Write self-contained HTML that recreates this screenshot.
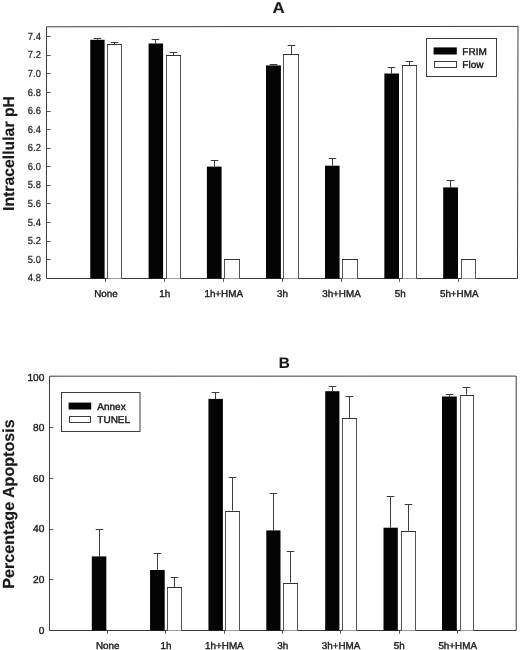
<!DOCTYPE html>
<html><head><meta charset="utf-8"><title>Figure</title>
<style>
html,body{margin:0;padding:0;background:#fff;}
body{width:520px;height:650px;overflow:hidden;font-family:"Liberation Sans",sans-serif;}
svg{display:block;filter:grayscale(1);}
text{font-family:"Liberation Sans",sans-serif;fill:#1a1a1a;stroke:#1a1a1a;stroke-width:0.3px;text-rendering:geometricPrecision;}
.tk{font-size:10.2px;stroke-width:0.22px;}
.tk2{font-size:10.2px;stroke-width:0.38px;}
.xl{font-size:9.85px;stroke-width:0.38px;}
.lg{font-size:10px;stroke-width:0.42px;}
.pt{font-size:15px;font-weight:bold;stroke-width:0.15px;}
.yt{font-size:15.8px;font-weight:bold;stroke-width:0.15px;}
.yt2{font-size:16.1px;font-weight:bold;stroke-width:0.15px;}
</style></head>
<body>
<svg width="520" height="650" viewBox="0 0 520 650">
<rect width="520" height="650" fill="#fff"/>
<g id="chartA">
<path d="M46.5 26.8 L280 26.6 L518.0 26.4 L517.5 278.5 L46.5 278.5 Z" fill="none" stroke="#3c3c3c" stroke-width="1"/>
<line x1="46.5" y1="36.5" x2="50.7" y2="36.5" stroke="#555" stroke-width="1"/>
<text transform="translate(40.9,39.85) scale(0.92,1)" text-anchor="end" class="tk">7.4</text>
<line x1="46.5" y1="55.5" x2="50.7" y2="55.5" stroke="#555" stroke-width="1"/>
<text transform="translate(40.9,58.43) scale(0.92,1)" text-anchor="end" class="tk">7.2</text>
<line x1="46.5" y1="73.5" x2="50.7" y2="73.5" stroke="#555" stroke-width="1"/>
<text transform="translate(40.9,77.00) scale(0.92,1)" text-anchor="end" class="tk">7.0</text>
<line x1="46.5" y1="92.5" x2="50.7" y2="92.5" stroke="#555" stroke-width="1"/>
<text transform="translate(40.9,95.58) scale(0.92,1)" text-anchor="end" class="tk">6.8</text>
<line x1="46.5" y1="111.5" x2="50.7" y2="111.5" stroke="#555" stroke-width="1"/>
<text transform="translate(40.9,114.16) scale(0.92,1)" text-anchor="end" class="tk">6.6</text>
<line x1="46.5" y1="129.5" x2="50.7" y2="129.5" stroke="#555" stroke-width="1"/>
<text transform="translate(40.9,132.73) scale(0.92,1)" text-anchor="end" class="tk">6.4</text>
<line x1="46.5" y1="148.5" x2="50.7" y2="148.5" stroke="#555" stroke-width="1"/>
<text transform="translate(40.9,151.31) scale(0.92,1)" text-anchor="end" class="tk">6.2</text>
<line x1="46.5" y1="166.5" x2="50.7" y2="166.5" stroke="#555" stroke-width="1"/>
<text transform="translate(40.9,169.89) scale(0.92,1)" text-anchor="end" class="tk">6.0</text>
<line x1="46.5" y1="185.5" x2="50.7" y2="185.5" stroke="#555" stroke-width="1"/>
<text transform="translate(40.9,188.47) scale(0.92,1)" text-anchor="end" class="tk">5.8</text>
<line x1="46.5" y1="203.5" x2="50.7" y2="203.5" stroke="#555" stroke-width="1"/>
<text transform="translate(40.9,207.04) scale(0.92,1)" text-anchor="end" class="tk">5.6</text>
<line x1="46.5" y1="222.5" x2="50.7" y2="222.5" stroke="#555" stroke-width="1"/>
<text transform="translate(40.9,225.62) scale(0.92,1)" text-anchor="end" class="tk">5.4</text>
<line x1="46.5" y1="241.5" x2="50.7" y2="241.5" stroke="#555" stroke-width="1"/>
<text transform="translate(40.9,244.20) scale(0.92,1)" text-anchor="end" class="tk">5.2</text>
<line x1="46.5" y1="259.5" x2="50.7" y2="259.5" stroke="#555" stroke-width="1"/>
<text transform="translate(40.9,262.77) scale(0.92,1)" text-anchor="end" class="tk">5.0</text>
<text transform="translate(40.9,281.35) scale(0.92,1)" text-anchor="end" class="tk">4.8</text>
<path d="M97.5 39.80V38.5M93.70 38.5H101.30" stroke="#3c3c3c" stroke-width="1" fill="none"/>
<path d="M114.5 44.00V42.5M110.70 42.5H118.30" stroke="#3c3c3c" stroke-width="1" fill="none"/>
<rect x="90.25" y="39.80" width="14.35" height="238.70" fill="#040404"/>
<rect x="107.5" y="44.5" width="14.0" height="234.00" fill="#fff"/>
<path d="M107.5 278.5V44.0M121.5 278.5V44.0" stroke="#555" stroke-width="1" fill="none"/>
<path d="M107.0 44.5H122.0" stroke="#333" stroke-width="1" fill="none"/>
<path d="M155.5 43.50V39.5M151.70 39.5H159.30" stroke="#3c3c3c" stroke-width="1" fill="none"/>
<path d="M173.5 55.10V52.5M169.70 52.5H177.30" stroke="#3c3c3c" stroke-width="1" fill="none"/>
<rect x="148.60" y="43.50" width="14.50" height="235.00" fill="#040404"/>
<rect x="166.5" y="55.5" width="14.0" height="223.00" fill="#fff"/>
<path d="M166.5 278.5V55.0M180.5 278.5V55.0" stroke="#555" stroke-width="1" fill="none"/>
<path d="M166.0 55.5H181.0" stroke="#333" stroke-width="1" fill="none"/>
<path d="M214.5 166.60V160.5M210.70 160.5H218.30" stroke="#3c3c3c" stroke-width="1" fill="none"/>
<rect x="206.90" y="166.60" width="14.70" height="111.90" fill="#040404"/>
<rect x="224.5" y="259.5" width="15.0" height="19.00" fill="#fff"/>
<path d="M224.5 278.5V259.0M239.5 278.5V259.0" stroke="#555" stroke-width="1" fill="none"/>
<path d="M224.0 259.5H240.0" stroke="#333" stroke-width="1" fill="none"/>
<path d="M273.5 65.40V64.5M269.70 64.5H277.30" stroke="#3c3c3c" stroke-width="1" fill="none"/>
<path d="M291.5 54.25V45.5M287.70 45.5H295.30" stroke="#3c3c3c" stroke-width="1" fill="none"/>
<rect x="266.00" y="65.40" width="14.90" height="213.10" fill="#040404"/>
<rect x="283.5" y="54.5" width="15.0" height="224.00" fill="#fff"/>
<path d="M283.5 278.5V54.0M298.5 278.5V54.0" stroke="#555" stroke-width="1" fill="none"/>
<path d="M283.0 54.5H299.0" stroke="#333" stroke-width="1" fill="none"/>
<path d="M332.5 165.70V158.5M328.70 158.5H336.30" stroke="#3c3c3c" stroke-width="1" fill="none"/>
<rect x="325.00" y="165.70" width="14.60" height="112.80" fill="#040404"/>
<rect x="342.5" y="259.5" width="15.0" height="19.00" fill="#fff"/>
<path d="M342.5 278.5V259.0M357.5 278.5V259.0" stroke="#555" stroke-width="1" fill="none"/>
<path d="M342.0 259.5H358.0" stroke="#333" stroke-width="1" fill="none"/>
<path d="M391.5 73.50V67.5M387.70 67.5H395.30" stroke="#3c3c3c" stroke-width="1" fill="none"/>
<path d="M409.5 65.30V61.5M405.70 61.5H413.30" stroke="#3c3c3c" stroke-width="1" fill="none"/>
<rect x="384.35" y="73.50" width="14.65" height="205.00" fill="#040404"/>
<rect x="402.5" y="65.5" width="14.0" height="213.00" fill="#fff"/>
<path d="M402.5 278.5V65.0M416.5 278.5V65.0" stroke="#555" stroke-width="1" fill="none"/>
<path d="M402.0 65.5H417.0" stroke="#333" stroke-width="1" fill="none"/>
<path d="M450.5 187.40V180.5M446.70 180.5H454.30" stroke="#3c3c3c" stroke-width="1" fill="none"/>
<rect x="443.20" y="187.40" width="14.80" height="91.10" fill="#040404"/>
<rect x="461.5" y="259.5" width="14.0" height="19.00" fill="#fff"/>
<path d="M461.5 278.5V259.0M475.5 278.5V259.0" stroke="#555" stroke-width="1" fill="none"/>
<path d="M461.0 259.5H476.0" stroke="#333" stroke-width="1" fill="none"/>
<line x1="105.5" y1="278.5" x2="105.5" y2="281.9" stroke="#555" stroke-width="1"/>
<text x="105.98" y="296.7" text-anchor="middle" class="xl">None</text>
<line x1="164.5" y1="278.5" x2="164.5" y2="281.9" stroke="#555" stroke-width="1"/>
<text x="164.85" y="296.7" text-anchor="middle" class="xl">1h</text>
<line x1="223.5" y1="278.5" x2="223.5" y2="281.9" stroke="#555" stroke-width="1"/>
<text x="223.72" y="296.7" text-anchor="middle" class="xl">1h+HMA</text>
<line x1="282.5" y1="278.5" x2="282.5" y2="281.9" stroke="#555" stroke-width="1"/>
<text x="282.60" y="296.7" text-anchor="middle" class="xl">3h</text>
<line x1="341.5" y1="278.5" x2="341.5" y2="281.9" stroke="#555" stroke-width="1"/>
<text x="341.47" y="296.7" text-anchor="middle" class="xl">3h+HMA</text>
<line x1="399.5" y1="278.5" x2="399.5" y2="281.9" stroke="#555" stroke-width="1"/>
<text x="400.35" y="296.7" text-anchor="middle" class="xl">5h</text>
<line x1="458.5" y1="278.5" x2="458.5" y2="281.9" stroke="#555" stroke-width="1"/>
<text x="459.22" y="296.7" text-anchor="middle" class="xl">5h+HMA</text>
<rect x="426.5" y="38.5" width="70" height="38" fill="#fff" stroke="#3c3c3c" stroke-width="1"/>
<rect x="433.6" y="47.4" width="23.2" height="7.1" fill="#040404"/>
<rect x="434.5" y="61.5" width="22" height="6" fill="#fff" stroke="#3c3c3c" stroke-width="1"/>
<text x="462.3" y="54.6" class="lg">FRIM</text>
<text x="462.3" y="67.6" class="lg">Flow</text>
<text transform="translate(278.5,12.5) scale(1.07,1)" text-anchor="middle" class="pt" style="font-size:15.8px">A</text>
<text transform="translate(14.0,153.5) rotate(-90)" text-anchor="middle" class="yt">Intracellular pH</text>
</g>
<g id="chartB">
<path d="M49.5 376.2 L516.2 376.1 L516.2 630.5 L49.5 630.5 Z" fill="none" stroke="#3c3c3c" stroke-width="1"/>
<text x="44.4" y="380.60" text-anchor="end" class="tk2">100</text>
<line x1="49.5" y1="427.5" x2="53.3" y2="427.5" stroke="#555" stroke-width="1"/>
<text x="44.4" y="431.20" text-anchor="end" class="tk2">80</text>
<line x1="49.5" y1="478.5" x2="53.3" y2="478.5" stroke="#555" stroke-width="1"/>
<text x="44.4" y="481.80" text-anchor="end" class="tk2">60</text>
<line x1="49.5" y1="529.5" x2="53.3" y2="529.5" stroke="#555" stroke-width="1"/>
<text x="44.4" y="532.40" text-anchor="end" class="tk2">40</text>
<line x1="49.5" y1="579.5" x2="53.3" y2="579.5" stroke="#555" stroke-width="1"/>
<text x="44.4" y="583.00" text-anchor="end" class="tk2">20</text>
<text x="44.4" y="633.60" text-anchor="end" class="tk2">0</text>
<path d="M99.5 556.40V529.5M95.70 529.5H103.30" stroke="#3c3c3c" stroke-width="1" fill="none"/>
<rect x="91.80" y="556.40" width="14.50" height="74.10" fill="#040404"/>
<path d="M157.5 570.00V553.5M153.70 553.5H161.30" stroke="#3c3c3c" stroke-width="1" fill="none"/>
<path d="M174.5 587.20V577.5M170.70 577.5H178.30" stroke="#3c3c3c" stroke-width="1" fill="none"/>
<rect x="150.05" y="570.00" width="14.65" height="60.50" fill="#040404"/>
<rect x="167.5" y="587.5" width="14.0" height="43.00" fill="#fff"/>
<path d="M167.5 630.5V587.0M181.5 630.5V587.0" stroke="#555" stroke-width="1" fill="none"/>
<path d="M167.0 587.5H182.0" stroke="#333" stroke-width="1" fill="none"/>
<path d="M215.5 398.90V392.5M211.70 392.5H219.30" stroke="#3c3c3c" stroke-width="1" fill="none"/>
<path d="M232.5 510.60V477.5M228.70 477.5H236.30" stroke="#3c3c3c" stroke-width="1" fill="none"/>
<rect x="208.45" y="398.90" width="14.45" height="231.60" fill="#040404"/>
<rect x="225.5" y="511.5" width="14.0" height="119.00" fill="#fff"/>
<path d="M225.5 630.5V511.0M239.5 630.5V511.0" stroke="#555" stroke-width="1" fill="none"/>
<path d="M225.0 511.5H240.0" stroke="#333" stroke-width="1" fill="none"/>
<path d="M273.5 530.40V493.5M269.70 493.5H277.30" stroke="#3c3c3c" stroke-width="1" fill="none"/>
<path d="M290.5 582.50V551.5M286.70 551.5H294.30" stroke="#3c3c3c" stroke-width="1" fill="none"/>
<rect x="266.30" y="530.40" width="14.20" height="100.10" fill="#040404"/>
<rect x="283.5" y="583.5" width="14.0" height="47.00" fill="#fff"/>
<path d="M283.5 630.5V583.0M297.5 630.5V583.0" stroke="#555" stroke-width="1" fill="none"/>
<path d="M283.0 583.5H298.0" stroke="#333" stroke-width="1" fill="none"/>
<path d="M332.5 391.20V386.5M328.70 386.5H336.30" stroke="#3c3c3c" stroke-width="1" fill="none"/>
<path d="M349.5 418.30V396.5M345.70 396.5H353.30" stroke="#3c3c3c" stroke-width="1" fill="none"/>
<rect x="325.20" y="391.20" width="14.20" height="239.30" fill="#040404"/>
<rect x="342.5" y="418.5" width="14.0" height="212.00" fill="#fff"/>
<path d="M342.5 630.5V418.0M356.5 630.5V418.0" stroke="#555" stroke-width="1" fill="none"/>
<path d="M342.0 418.5H357.0" stroke="#333" stroke-width="1" fill="none"/>
<path d="M390.5 527.70V496.5M386.70 496.5H394.30" stroke="#3c3c3c" stroke-width="1" fill="none"/>
<path d="M408.5 530.90V504.5M404.70 504.5H412.30" stroke="#3c3c3c" stroke-width="1" fill="none"/>
<rect x="383.50" y="527.70" width="14.30" height="102.80" fill="#040404"/>
<rect x="401.5" y="531.5" width="14.0" height="99.00" fill="#fff"/>
<path d="M401.5 630.5V531.0M415.5 630.5V531.0" stroke="#555" stroke-width="1" fill="none"/>
<path d="M401.0 531.5H416.0" stroke="#333" stroke-width="1" fill="none"/>
<path d="M449.5 396.50V394.5M445.70 394.5H453.30" stroke="#3c3c3c" stroke-width="1" fill="none"/>
<path d="M466.5 394.60V387.5M462.70 387.5H470.30" stroke="#3c3c3c" stroke-width="1" fill="none"/>
<rect x="442.00" y="396.50" width="14.80" height="234.00" fill="#040404"/>
<rect x="460.5" y="395.5" width="13.0" height="235.00" fill="#fff"/>
<path d="M460.5 630.5V395.0M473.5 630.5V395.0" stroke="#555" stroke-width="1" fill="none"/>
<path d="M460.0 395.5H474.0" stroke="#333" stroke-width="1" fill="none"/>
<line x1="107.5" y1="630.5" x2="107.5" y2="633.7" stroke="#555" stroke-width="1"/>
<text x="107.73" y="648.8" text-anchor="middle" class="xl">None</text>
<line x1="165.5" y1="630.5" x2="165.5" y2="633.7" stroke="#555" stroke-width="1"/>
<text x="166.05" y="648.8" text-anchor="middle" class="xl">1h</text>
<line x1="224.5" y1="630.5" x2="224.5" y2="633.7" stroke="#555" stroke-width="1"/>
<text x="224.38" y="648.8" text-anchor="middle" class="xl">1h+HMA</text>
<line x1="282.5" y1="630.5" x2="282.5" y2="633.7" stroke="#555" stroke-width="1"/>
<text x="282.70" y="648.8" text-anchor="middle" class="xl">3h</text>
<line x1="340.5" y1="630.5" x2="340.5" y2="633.7" stroke="#555" stroke-width="1"/>
<text x="341.02" y="648.8" text-anchor="middle" class="xl">3h+HMA</text>
<line x1="399.5" y1="630.5" x2="399.5" y2="633.7" stroke="#555" stroke-width="1"/>
<text x="399.35" y="648.8" text-anchor="middle" class="xl">5h</text>
<line x1="457.5" y1="630.5" x2="457.5" y2="633.7" stroke="#555" stroke-width="1"/>
<text x="457.68" y="648.8" text-anchor="middle" class="xl">5h+HMA</text>
<rect x="61.5" y="392.5" width="78.5" height="39" fill="#fff" stroke="#3c3c3c" stroke-width="1"/>
<rect x="68.6" y="402.6" width="22.6" height="6.9" fill="#040404"/>
<rect x="69.5" y="416.5" width="21" height="6" fill="#fff" stroke="#3c3c3c" stroke-width="1"/>
<text x="97.3" y="409.8" class="lg">Annex</text>
<text x="97.3" y="423" class="lg">TUNEL</text>
<text x="284.3" y="367.8" text-anchor="middle" class="pt" style="font-size:15.3px">B</text>
<text transform="translate(13.6,504) rotate(-90)" text-anchor="middle" class="yt2">Percentage Apoptosis</text>
</g>
</svg>
</body></html>
